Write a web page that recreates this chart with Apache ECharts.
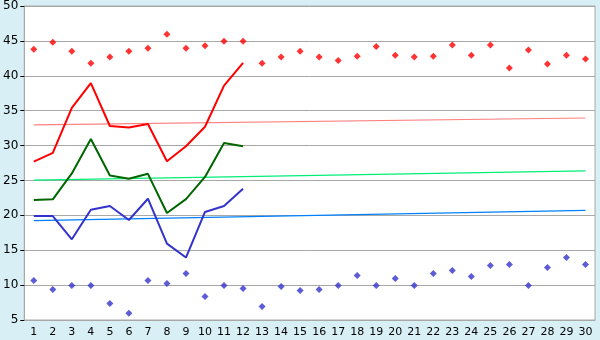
<!DOCTYPE html>
<html>
<head>
<meta charset="utf-8">
<script src="https://cdn.jsdelivr.net/npm/echarts@6/dist/echarts.min.js"></script>
<style>html,body{margin:0;padding:0;background:#D9EFF6;}#c{width:600px;height:340px;}</style>
</head>
<body>
<div id="c"></div>
<script>
var categories = ['1','2','3','4','5','6','7','8','9','10','11','12','13','14','15','16','17','18','19','20','21','22','23','24','25','26','27','28','29','30'];
var redPoints = [43.8,44.8,43.5,41.8,42.7,43.5,43.95,45.95,43.95,44.3,44.95,44.95,41.8,42.7,43.5,42.7,42.2,42.8,44.2,42.95,42.7,42.8,44.4,42.95,44.4,41.1,43.7,41.7,42.95,42.4];
var redLine = [27.7,28.95,35.4,38.95,32.8,32.6,33.1,27.76,29.9,32.7,38.6,41.86];
var greenLine = [22.19,22.3,26.0,30.95,25.7,25.24,25.95,20.33,22.33,25.5,30.38,29.9];
var blueLine = [19.9,19.9,16.57,20.8,21.33,19.33,22.38,15.95,13.95,20.48,21.33,23.8];
var bluePoints = [10.67,9.38,9.95,9.95,7.38,5.95,10.67,10.24,11.67,8.38,9.95,9.52,6.95,9.81,9.24,9.38,9.95,11.38,9.95,10.95,9.95,11.67,12.1,11.24,12.81,12.95,9.95,12.52,13.95,12.95];
var pinkTrendEnds = [32.95, 33.95];
var greenTrendEnds = [25.05, 26.38];
var blueTrendEnds = [19.24, 20.71];
var yTicks = {min:5, max:50, interval:5};

function ends(e){
  var a = categories.map(function(){return null;});
  a[0] = e[0]; a[categories.length-1] = e[1];
  return a;
}
var chart = echarts.init(document.getElementById('c'));
var font = 'DejaVu Sans';
chart.setOption({
  animation:false,
  backgroundColor:'#D9EFF6',
  grid:{left:20,right:5,top:5,bottom:20,show:true,backgroundColor:'#ffffff',borderColor:'#A8A8A8',borderWidth:1},
  xAxis:{type:'category',data:categories,boundaryGap:true,
    axisLine:{show:true,lineStyle:{color:'#A8A8A8'}},
    axisTick:{alignWithLabel:true,interval:0,length:6,lineStyle:{color:'#000'}},
    axisLabel:{interval:0,color:'#000',fontFamily:font,fontSize:11,margin:7},
    splitLine:{show:false}},
  yAxis:{type:'value',min:yTicks.min,max:yTicks.max,interval:yTicks.interval,
    axisLine:{show:true,lineStyle:{color:'#A8A8A8'}},
    axisTick:{show:true,length:4,lineStyle:{color:'#000'}},
    axisLabel:{color:'#000',fontFamily:font,fontSize:12,margin:6},
    splitLine:{show:true,lineStyle:{color:'#A8A8A8',width:1}}},
  series:[
    {type:'line',data:ends(pinkTrendEnds),connectNulls:true,showSymbol:false,lineStyle:{color:'#FF8080',width:1.2},itemStyle:{color:'#FF8080'}},
    {type:'line',data:ends(greenTrendEnds),connectNulls:true,showSymbol:false,lineStyle:{color:'#00EE77',width:1.2},itemStyle:{color:'#00EE77'}},
    {type:'line',data:ends(blueTrendEnds),connectNulls:true,showSymbol:false,lineStyle:{color:'#0080FF',width:1.2},itemStyle:{color:'#0080FF'}},
    {type:'line',data:redLine,showSymbol:false,lineStyle:{color:'#FF0000',width:2},itemStyle:{color:'#FF0000'}},
    {type:'line',data:greenLine,showSymbol:false,lineStyle:{color:'#006600',width:2},itemStyle:{color:'#006600'}},
    {type:'line',data:blueLine,showSymbol:false,lineStyle:{color:'#3333CC',width:2},itemStyle:{color:'#3333CC'}},
    {type:'scatter',data:redPoints,symbol:'diamond',symbolSize:7,itemStyle:{color:'#FF0000'}},
    {type:'scatter',data:bluePoints,symbol:'diamond',symbolSize:7,itemStyle:{color:'#3333CC'}}
  ]
});
</script>
</body>
</html>
